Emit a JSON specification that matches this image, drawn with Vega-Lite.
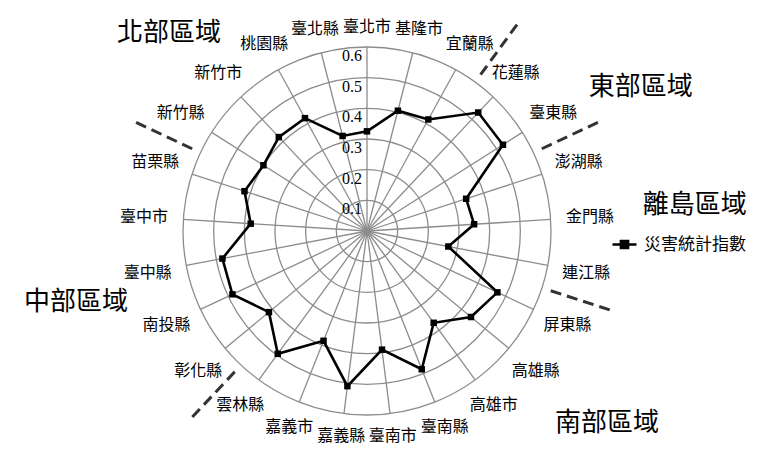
{
  "$schema": "https://vega.github.io/schema/vega-lite/v6.json",
  "autosize": {"type": "none"},
  "width": 368,
  "height": 368,
  "padding": {"left": 183, "top": 47, "right": 221, "bottom": 34},
  "background": "white",
  "config": {"view": {"stroke": null}},
  "datasets": {
    "pts": [
      {"i": 0, "name": "臺北市", "v": 0.325},
      {"i": 1, "name": "基隆市", "v": 0.405},
      {"i": 2, "name": "宜蘭縣", "v": 0.415},
      {"i": 3, "name": "花蓮縣", "v": 0.53},
      {"i": 4, "name": "臺東縣", "v": 0.525},
      {"i": 5, "name": "澎湖縣", "v": 0.34},
      {"i": 6, "name": "金門縣", "v": 0.35},
      {"i": 7, "name": "連江縣", "v": 0.27},
      {"i": 8, "name": "屏東縣", "v": 0.47},
      {"i": 9, "name": "高雄縣", "v": 0.44},
      {"i": 10, "name": "高雄市", "v": 0.37},
      {"i": 11, "name": "臺南縣", "v": 0.485},
      {"i": 12, "name": "臺南市", "v": 0.39},
      {"i": 13, "name": "嘉義縣", "v": 0.51},
      {"i": 14, "name": "嘉義市", "v": 0.385},
      {"i": 15, "name": "雲林縣", "v": 0.495},
      {"i": 16, "name": "彰化縣", "v": 0.415},
      {"i": 17, "name": "南投縣", "v": 0.485},
      {"i": 18, "name": "臺中縣", "v": 0.48},
      {"i": 19, "name": "臺中市", "v": 0.38},
      {"i": 20, "name": "苗栗縣", "v": 0.42},
      {"i": 21, "name": "新竹縣", "v": 0.4},
      {"i": 22, "name": "新竹市", "v": 0.42},
      {"i": 23, "name": "桃園縣", "v": 0.42},
      {"i": 24, "name": "臺北縣", "v": 0.32}
    ],
    "rings": [{"r": 0.1}, {"r": 0.2}, {"r": 0.3}, {"r": 0.4}, {"r": 0.5}, {"r": 0.6}],
    "bounds": [
      {"between": "宜蘭縣/花蓮縣", "k": 2.5},
      {"between": "臺東縣/澎湖縣", "k": 4.5},
      {"between": "連江縣/屏東縣", "k": 7.5},
      {"between": "雲林縣/彰化縣", "k": 15.5},
      {"between": "苗栗縣/新竹縣", "k": 20.5}
    ],
    "regions": [
      {"region": "北部區域"},
      {"region": "東部區域"},
      {"region": "離島區域"},
      {"region": "中部區域"},
      {"region": "南部區域"}
    ]
  },
  "layer": [
    {
      "data": {"name": "rings"},
      "mark": {"type": "point", "shape": "circle", "filled": false, "stroke": "#8c8c8c", "strokeWidth": 1.3, "opacity": 1},
      "encoding": {
        "x": {"datum": 0, "type": "quantitative", "scale": {"domain": [-0.6, 0.6], "nice": false, "zero": false}, "axis": null},
        "y": {"datum": 0, "type": "quantitative", "scale": {"domain": [-0.6, 0.6], "nice": false, "zero": false}, "axis": null},
        "size": {"field": "r", "type": "quantitative", "scale": {"type": "pow", "exponent": 2, "domain": [0, 0.6], "range": [0, 135424], "zero": true, "nice": false}, "legend": null}
      }
    },
    {
      "data": {"name": "pts"},
      "transform": [
        {"calculate": "datum.i*2*PI/25", "as": "a"},
        {"calculate": "0", "as": "z"},
        {"calculate": "0.6*sin(datum.a)", "as": "sx"},
        {"calculate": "0.6*cos(datum.a)", "as": "sy"}
      ],
      "mark": {"type": "rule", "stroke": "#8c8c8c", "strokeWidth": 1.3},
      "encoding": {
        "x": {"field": "z", "type": "quantitative", "scale": {"domain": [-0.6, 0.6], "nice": false, "zero": false}, "axis": null},
        "y": {"field": "z", "type": "quantitative", "scale": {"domain": [-0.6, 0.6], "nice": false, "zero": false}, "axis": null},
        "x2": {"field": "sx"},
        "y2": {"field": "sy"}
      }
    },
    {
      "data": {"name": "rings"},
      "mark": {"type": "text", "align": "right", "baseline": "top", "dx": -5, "dy": 1, "font": "Liberation Serif", "fontSize": 16, "color": "#000"},
      "encoding": {
        "x": {"datum": 0, "type": "quantitative", "scale": {"domain": [-0.6, 0.6], "nice": false, "zero": false}, "axis": null},
        "y": {"field": "r", "type": "quantitative", "scale": {"domain": [-0.6, 0.6], "nice": false, "zero": false}, "axis": null},
        "text": {"field": "r", "type": "quantitative", "format": ".1f"}
      }
    },
    {
      "data": {"name": "bounds"},
      "transform": [
        {"calculate": "datum.k*2*PI/25", "as": "a"},
        {"calculate": "0.63*sin(datum.a)", "as": "x1"},
        {"calculate": "0.63*cos(datum.a)", "as": "y1"},
        {"calculate": "0.84*sin(datum.a)", "as": "x2"},
        {"calculate": "0.84*cos(datum.a)", "as": "y2"}
      ],
      "mark": {"type": "rule", "stroke": "#333", "strokeWidth": 3, "strokeDash": [11, 6]},
      "encoding": {
        "x": {"field": "x1", "type": "quantitative", "scale": {"domain": [-0.6, 0.6], "nice": false, "zero": false}, "axis": null},
        "y": {"field": "y1", "type": "quantitative", "scale": {"domain": [-0.6, 0.6], "nice": false, "zero": false}, "axis": null},
        "x2": {"field": "x2"},
        "y2": {"field": "y2"}
      }
    },
    {
      "data": {"name": "pts"},
      "transform": [
        {"calculate": "datum.i*2*PI/25", "as": "a"},
        {"calculate": "datum.v*sin(datum.a)", "as": "px"},
        {"calculate": "datum.v*cos(datum.a)", "as": "py"}
      ],
      "mark": {"type": "line", "interpolate": "linear-closed", "strokeWidth": 2.6},
      "encoding": {
        "x": {"field": "px", "type": "quantitative", "scale": {"domain": [-0.6, 0.6], "nice": false, "zero": false}, "axis": null},
        "y": {"field": "py", "type": "quantitative", "scale": {"domain": [-0.6, 0.6], "nice": false, "zero": false}, "axis": null},
        "order": {"field": "i", "type": "quantitative"},
        "color": {
          "datum": "災害統計指數",
          "type": "nominal",
          "scale": {"range": ["#000000"]},
          "legend": {
            "title": null,
            "orient": "none",
            "legendX": 428,
            "legendY": 184,
            "padding": 0,
            "symbolType": "M-1,0H1M-0.3,-0.3H0.3V0.3H-0.3Z",
            "symbolSize": 576,
            "symbolStrokeWidth": 2.5,
            "symbolFillColor": "#000",
            "symbolStrokeColor": "#000",
            "labelFont": "Noto Sans CJK TC",
            "labelFontSize": 17,
            "labelColor": "#000",
            "labelOffset": 6
          }
        }
      }
    },
    {
      "data": {"name": "pts"},
      "transform": [
        {"calculate": "datum.i*2*PI/25", "as": "a"},
        {"calculate": "datum.v*sin(datum.a)", "as": "px"},
        {"calculate": "datum.v*cos(datum.a)", "as": "py"}
      ],
      "mark": {"type": "point", "shape": "square", "filled": true, "size": 42, "color": "#000", "opacity": 1},
      "encoding": {
        "x": {"field": "px", "type": "quantitative", "scale": {"domain": [-0.6, 0.6], "nice": false, "zero": false}, "axis": null},
        "y": {"field": "py", "type": "quantitative", "scale": {"domain": [-0.6, 0.6], "nice": false, "zero": false}, "axis": null}
      }
    },
    {
      "data": {"name": "pts"},
      "transform": [
        {"calculate": "datum.i*2*PI/25", "as": "a"},
        {"calculate": "0.665+0.064*abs(sin(datum.a))", "as": "lr"},
        {"calculate": "datum.lr*sin(datum.a)", "as": "lx"},
        {"calculate": "datum.lr*cos(datum.a)", "as": "ly"}
      ],
      "mark": {"type": "text", "align": "center", "baseline": "middle", "font": "Noto Sans CJK TC", "fontSize": 16, "color": "#000"},
      "encoding": {
        "x": {"field": "lx", "type": "quantitative", "scale": {"domain": [-0.6, 0.6], "nice": false, "zero": false}, "axis": null},
        "y": {"field": "ly", "type": "quantitative", "scale": {"domain": [-0.6, 0.6], "nice": false, "zero": false}, "axis": null},
        "text": {"field": "name", "type": "nominal"}
      }
    },
    {
      "data": {"name": "regions"},
      "transform": [{"filter": "datum.region === '北部區域'"}],
      "mark": {"type": "text", "align": "center", "baseline": "middle", "font": "Noto Sans CJK TC", "fontSize": 26, "color": "#000"},
      "encoding": {
        "x": {"datum": -0.646, "type": "quantitative", "scale": {"domain": [-0.6, 0.6], "nice": false, "zero": false}, "axis": null},
        "y": {"datum": 0.646, "type": "quantitative", "scale": {"domain": [-0.6, 0.6], "nice": false, "zero": false}, "axis": null},
        "text": {"field": "region", "type": "nominal"}
      }
    },
    {
      "data": {"name": "regions"},
      "transform": [{"filter": "datum.region === '東部區域'"}],
      "mark": {"type": "text", "align": "center", "baseline": "middle", "font": "Noto Sans CJK TC", "fontSize": 26, "color": "#000"},
      "encoding": {
        "x": {"datum": 0.893, "type": "quantitative", "scale": {"domain": [-0.6, 0.6], "nice": false, "zero": false}, "axis": null},
        "y": {"datum": 0.47, "type": "quantitative", "scale": {"domain": [-0.6, 0.6], "nice": false, "zero": false}, "axis": null},
        "text": {"field": "region", "type": "nominal"}
      }
    },
    {
      "data": {"name": "regions"},
      "transform": [{"filter": "datum.region === '離島區域'"}],
      "mark": {"type": "text", "align": "center", "baseline": "middle", "font": "Noto Sans CJK TC", "fontSize": 26, "color": "#000"},
      "encoding": {
        "x": {"datum": 1.069, "type": "quantitative", "scale": {"domain": [-0.6, 0.6], "nice": false, "zero": false}, "axis": null},
        "y": {"datum": 0.085, "type": "quantitative", "scale": {"domain": [-0.6, 0.6], "nice": false, "zero": false}, "axis": null},
        "text": {"field": "region", "type": "nominal"}
      }
    },
    {
      "data": {"name": "regions"},
      "transform": [{"filter": "datum.region === '中部區域'"}],
      "mark": {"type": "text", "align": "center", "baseline": "middle", "font": "Noto Sans CJK TC", "fontSize": 26, "color": "#000"},
      "encoding": {
        "x": {"datum": -0.949, "type": "quantitative", "scale": {"domain": [-0.6, 0.6], "nice": false, "zero": false}, "axis": null},
        "y": {"datum": -0.231, "type": "quantitative", "scale": {"domain": [-0.6, 0.6], "nice": false, "zero": false}, "axis": null},
        "text": {"field": "region", "type": "nominal"}
      }
    },
    {
      "data": {"name": "regions"},
      "transform": [{"filter": "datum.region === '南部區域'"}],
      "mark": {"type": "text", "align": "center", "baseline": "middle", "font": "Noto Sans CJK TC", "fontSize": 26, "color": "#000"},
      "encoding": {
        "x": {"datum": 0.783, "type": "quantitative", "scale": {"domain": [-0.6, 0.6], "nice": false, "zero": false}, "axis": null},
        "y": {"datum": -0.626, "type": "quantitative", "scale": {"domain": [-0.6, 0.6], "nice": false, "zero": false}, "axis": null},
        "text": {"field": "region", "type": "nominal"}
      }
    }
  ]
}
